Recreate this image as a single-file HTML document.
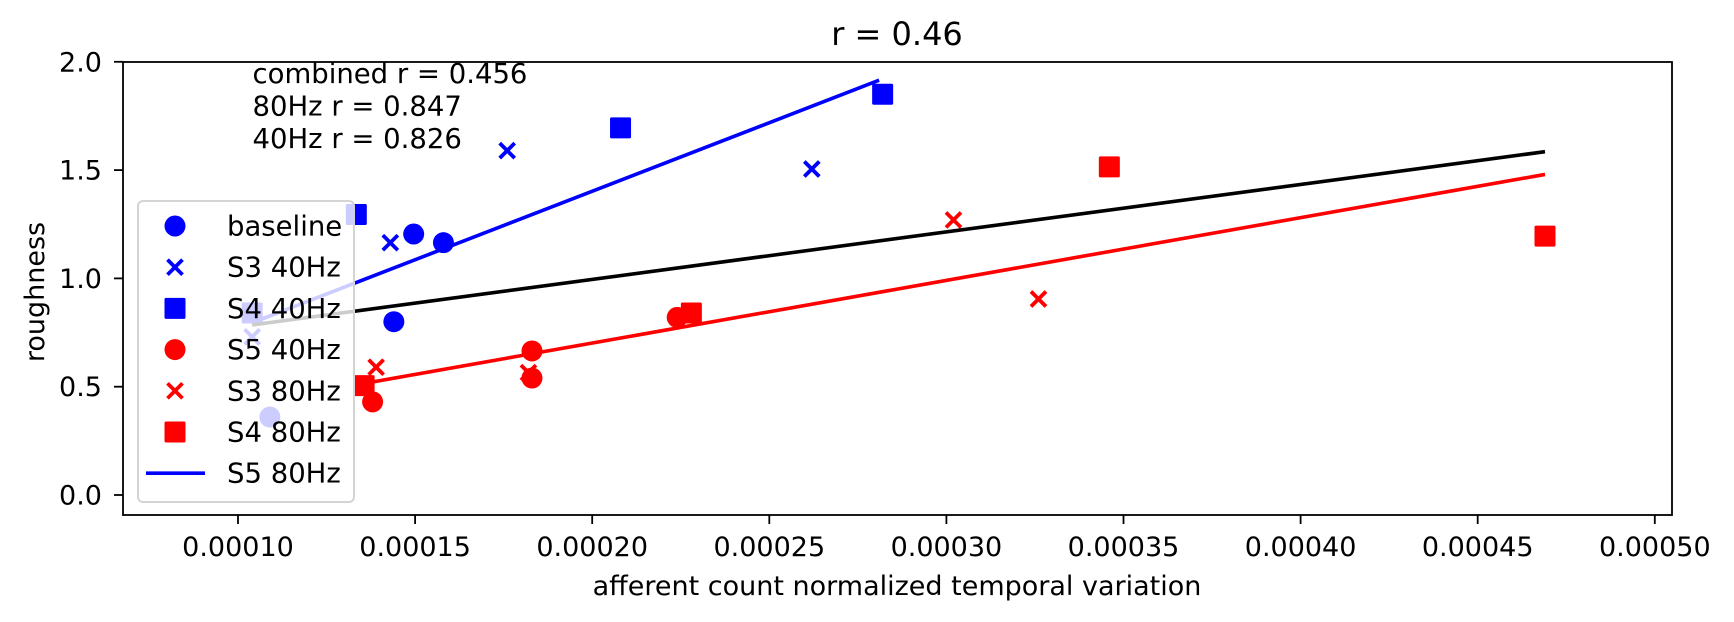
<!DOCTYPE html>
<html><head><meta charset="utf-8"><style>
html,body{margin:0;padding:0;background:#fff;width:1734px;height:622px;overflow:hidden}
svg text{font-family:"DejaVu Sans","Liberation Sans",sans-serif;fill:#000}
</style></head><body>
<svg id="chart" width="1734" height="622" viewBox="0 0 1734 622" xmlns="http://www.w3.org/2000/svg">
<text x="897" y="45" font-size="32" text-anchor="middle">r = 0.46</text>
<text x="897" y="595" font-size="27" text-anchor="middle">afferent count normalized temporal variation</text>
<text transform="translate(44,292) rotate(-90)" font-size="27" text-anchor="middle">roughness</text>
<g id="plot"></g>
<g id="fg"></g>
</svg>
<script>
const xTicks=[0.00010,0.00015,0.00020,0.00025,0.00030,0.00035,0.00040,0.00045,0.00050];
const xTickLabels=["0.00010","0.00015","0.00020","0.00025","0.00030","0.00035","0.00040","0.00045","0.00050"];
const yTicks=[0.0,0.5,1.0,1.5,2.0];
const yTickLabels=["0.0","0.5","1.0","1.5","2.0"];
const baselineX=[0.000109,0.000144,0.0001496,0.000158];
const baselineY=[0.36,0.80,1.205,1.165];
const s3_40X=[0.000104,0.000143,0.000176,0.000262];
const s3_40Y=[0.73,1.165,1.59,1.505];
const s4_40X=[0.000104,0.0001334,0.000208,0.000282];
const s4_40Y=[0.84,1.295,1.695,1.85];
const s5_40X=[0.000138,0.000183,0.000183,0.000224];
const s5_40Y=[0.43,0.54,0.665,0.82];
const s3_80X=[0.000139,0.000182,0.000302,0.000326];
const s3_80Y=[0.59,0.565,1.27,0.905];
const s4_80X=[0.0001356,0.000228,0.000346,0.000469];
const s4_80Y=[0.505,0.84,1.515,1.195];
const blueLineX=[0.000104,0.000281];
const blueLineY=[0.795,1.915];
const blackLineX=[0.000104,0.000469];
const blackLineY=[0.785,1.585];
const redLineX=[0.0001356,0.000469];
const redLineY=[0.515,1.48];

const NS="http://www.w3.org/2000/svg";
const L=123,R=1672,T=62,B=515;
function X(v){return 238+(v-0.0001)/0.00005*177.1;}
function Y(v){return 495-v*216.6;}
function mk(tag,attrs,parent){const e=document.createElementNS(NS,tag);for(const k in attrs)e.setAttribute(k,attrs[k]);parent.appendChild(e);return e;}
const plot=document.getElementById('plot');
const fg=document.getElementById('fg');

function lineSeries(xs,ys,color,name){
  const l=mk('polyline',{points:xs.map((x,i)=>X(x)+','+Y(ys[i])).join(' '),fill:'none',stroke:color,'stroke-width':3.6},plot);
  
  
}
function marker(kind,cx,cy,color,parent){
  let e;
  if(kind==='o'){e=mk('circle',{cx:cx,cy:cy,r:10.5,fill:color},parent);}
  else if(kind==='s'){e=mk('rect',{x:cx-10.5,y:cy-10.5,width:21,height:21,rx:1.5,fill:color},parent);}
  else{e=mk('path',{d:`M${cx-7.5},${cy-7.5}L${cx+7.5},${cy+7.5}M${cx-7.5},${cy+7.5}L${cx+7.5},${cy-7.5}`,stroke:color,'stroke-width':3.8,fill:'none'},parent);}
  return e;
}
function scatter(xs,ys,kind,color,name){
  xs.forEach((x,i)=>{
    const e=marker(kind,X(x),Y(ys[i]),color,plot);
    
    
  });
}
scatter(baselineX,baselineY,'o','#0000ff','baseline');
scatter(s3_40X,s3_40Y,'x','#0000ff','s3-40hz');
scatter(s4_40X,s4_40Y,'s','#0000ff','s4-40hz');
scatter(s5_40X,s5_40Y,'o','#ff0000','s5-40hz');
scatter(s3_80X,s3_80Y,'x','#ff0000','s3-80hz');
scatter(s4_80X,s4_80Y,'s','#ff0000','s4-80hz');
lineSeries(blueLineX,blueLineY,'#0000ff','fit-line-40hz');
lineSeries(blackLineX,blackLineY,'#000000','fit-line-combined');
lineSeries(redLineX,redLineY,'#ff0000','fit-line-80hz');

// annotation
const ann=["combined r = 0.456","80Hz r = 0.847","40Hz r = 0.826"];
ann.forEach((t,i)=>{
  const e=mk('text',{x:252.5,y:83+i*32.5,'font-size':27.5},fg);
  e.textContent=t;
  
  
});

// legend
const lg=mk('g',{},fg);


mk('rect',{x:138,y:201,width:216,height:301,rx:5,fill:'rgba(255,255,255,0.8)',stroke:'#d4d4d4','stroke-width':2},lg);
const legLabels=["baseline","S3 40Hz","S4 40Hz","S5 40Hz","S3 80Hz","S4 80Hz","S5 80Hz"];
const legKinds=['o','x','s','o','x','s','-'];
const legColors=['#0000ff','#0000ff','#0000ff','#ff0000','#ff0000','#ff0000','#0000ff'];
legLabels.forEach((t,i)=>{
  const cy=226+i*41.2;
  const g=mk('g',{},lg);
  
  
  if(legKinds[i]==='-'){mk('line',{x1:146,y1:cy,x2:205,y2:cy,stroke:legColors[i],'stroke-width':3.6},g);}
  else marker(legKinds[i],175,cy,legColors[i],g);
  const tx=mk('text',{x:227,y:cy+9.5,'font-size':27.5},g);
  tx.textContent=t;
});

// axes frame
const frame=mk('rect',{x:L,y:T,width:R-L,height:B-T,fill:'none',stroke:'#000','stroke-width':1.8},fg);


xTicks.forEach((v,i)=>{
  const x=X(v);
  const t=mk('line',{x1:x,y1:B,x2:x,y2:B+9,stroke:'#000','stroke-width':1.8},fg);
  
  
  const lb=mk('text',{x:x,y:556,'font-size':27,'text-anchor':'middle'},fg);
  lb.textContent=xTickLabels[i];
  
  
});
yTicks.forEach((v,i)=>{
  const y=Y(v);
  const t=mk('line',{x1:L-9,y1:y,x2:L,y2:y,stroke:'#000','stroke-width':1.8},fg);
  
  
  const lb=mk('text',{x:102,y:y+9.5,'font-size':27,'text-anchor':'end'},fg);
  lb.textContent=yTickLabels[i];
  
  
});
</script>
</body></html>
